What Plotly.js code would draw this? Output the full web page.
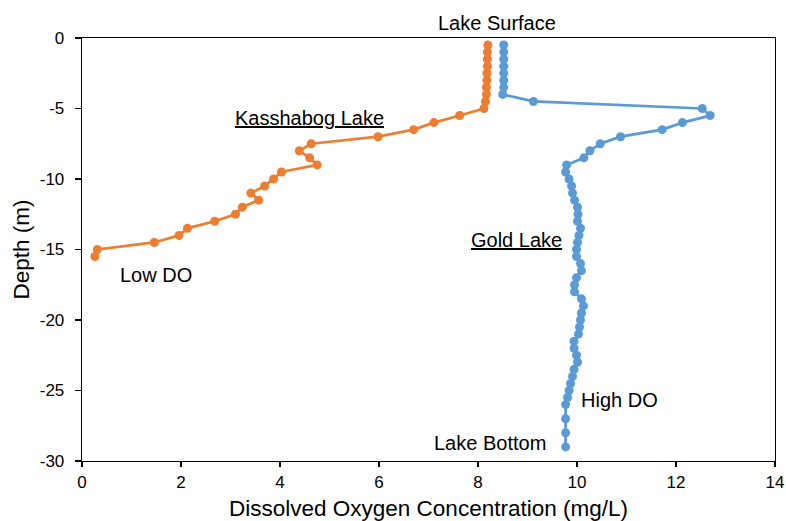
<!DOCTYPE html>
<html>
<head>
<meta charset="utf-8">
<script src="https://cdn.plot.ly/plotly-3.0.1.min.js"></script>
<style>html,body{margin:0;padding:0;background:#fff;}#chart{width:786px;height:521px;}</style>
</head>
<body>
<div id="chart"></div>
<script>
// Kasshabog Lake profile
const kassDepth = [-0.5,-1,-1.5,-2,-2.5,-3,-3.5,-4,-4.5,-5,-5.5,-6,-6.5,-7,-7.5,-8,-8.5,-9,-9.5,-10,-10.5,-11,-11.5,-12,-12.5,-13,-13.5,-14,-14.5,-15,-15.5];
const kassDO = [8.20,8.19,8.19,8.19,8.18,8.18,8.17,8.17,8.15,8.12,7.63,7.11,6.70,5.98,4.63,4.39,4.60,4.75,4.03,3.87,3.69,3.41,3.57,3.24,3.10,2.68,2.13,1.96,1.46,0.31,0.26];

// Gold Lake profile
const goldDepth = [-0.5,-1,-1.5,-2,-2.5,-3,-3.5,-4,-4.5,-5,-5.5,-6,-6.5,-7,-7.5,-8,-8.5,-9,-9.5,-10,-10.5,-11,-11.5,-12,-12.5,-13,-13.5,-14,-14.5,-15,-15.5,-16,-16.5,-17,-17.5,-18,-18.5,-19,-19.5,-20,-20.5,-21,-21.5,-22,-22.5,-23,-23.5,-24,-24.5,-25,-25.5,-26,-27,-28,-29];
const goldDO = [8.52,8.52,8.52,8.52,8.52,8.52,8.52,8.50,9.12,12.53,12.69,12.13,11.72,10.88,10.47,10.26,10.14,9.79,9.77,9.84,9.89,9.91,9.95,10.01,10.02,10.01,10.07,10.04,10.01,9.99,9.99,10.07,10.09,9.99,9.95,9.95,10.09,10.13,10.09,10.07,10.05,10.03,9.94,9.94,9.99,10.01,9.94,9.91,9.87,9.84,9.81,9.77,9.77,9.77,9.77];

const xTicks = [0,2,4,6,8,10,12,14];
const yTicks = [0,-5,-10,-15,-20,-25,-30];

const labels = [
  {text:'Lake Surface', x:0.599, y:1.036},
  {text:'<u>Kasshabog Lake</u>', x:0.329, y:0.812},
  {text:'<u>Gold Lake</u>', x:0.6264, y:0.522},
  {text:'Low DO', x:0.107, y:0.440},
  {text:'High DO', x:0.7757, y:0.144},
  {text:'Lake Bottom', x:0.5885, y:0.043}
];

const FONT = 'Liberation Sans, Arial, sans-serif';

const traces = [
  {x:kassDO, y:kassDepth, type:'scatter', mode:'lines+markers', name:'Kasshabog Lake',
   line:{color:'#ED7D31', width:2.75}, marker:{color:'#ED7D31', size:9}, cliponaxis:false},
  {x:goldDO, y:goldDepth, type:'scatter', mode:'lines+markers', name:'Gold Lake',
   line:{color:'#5B9BD5', width:2.75}, marker:{color:'#5B9BD5', size:9}, cliponaxis:false}
];

const layout = {
  width:786, height:521,
  margin:{l:81.7, r:11, t:38.3, b:60.3},
  paper_bgcolor:'#fff', plot_bgcolor:'#fff',
  showlegend:false,
  font:{family:FONT, color:'#000', size:17},
  xaxis:{range:[0,14], tickvals:xTicks, ticktext:xTicks.map(String), showgrid:false, zeroline:false,
    showline:true, linecolor:'#000', linewidth:1.3, mirror:true,
    ticks:'outside', ticklen:5, tickcolor:'#000', tickwidth:1.3,
    tickfont:{family:FONT, size:17, color:'#000'},
    title:{text:'Dissolved Oxygen Concentration (mg/L)', font:{family:FONT, size:22.5, color:'#000'}, standoff:12}},
  yaxis:{range:[-30,0], tickvals:yTicks, ticktext:yTicks.map(String), showgrid:false, zeroline:false,
    showline:true, linecolor:'#000', linewidth:1.3, mirror:true,
    ticks:'outside', ticklen:6, tickcolor:'#000', tickwidth:1.3, ticklabelstandoff:7,
    tickfont:{family:FONT, size:17, color:'#000'},
    title:{text:'Depth (m)', font:{family:FONT, size:22.5, color:'#000'}, standoff:3}},
  annotations: labels.map(l => ({text:l.text, x:l.x, y:l.y, xref:'paper', yref:'paper',
    xanchor:'center', yanchor:'middle', showarrow:false, font:{family:FONT, size:20, color:'#000'}}))
};

Plotly.newPlot('chart', traces, layout, {displayModeBar:false, staticPlot:true});
</script>
</body>
</html>
